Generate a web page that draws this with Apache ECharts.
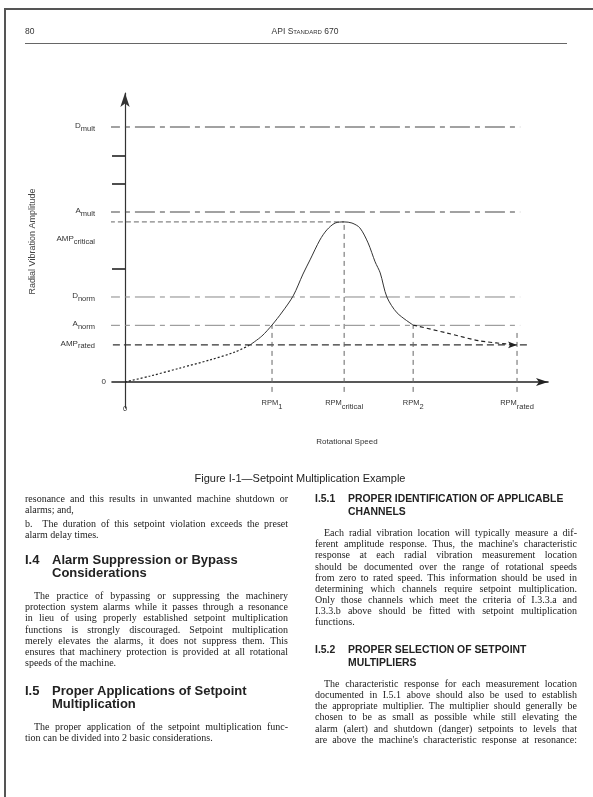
<!DOCTYPE html>
<html>
<head>
<meta charset="utf-8">
<script src="https://cdn.jsdelivr.net/npm/echarts@6/dist/echarts.min.js"></script>
<style>
html,body{margin:0;padding:0;background:#fff;}
#page{position:relative;width:593px;height:797px;overflow:hidden;background:#fff;}
#chart{position:absolute;left:0;top:0;width:593px;height:797px;}
.bd{position:absolute;background:#555;}
.ln{position:absolute;white-space:nowrap;height:12px;line-height:12px;font-family:'Liberation Serif',serif;font-size:10px;color:#222;}
.L{left:25px;width:263px;}
.R{left:315px;width:262px;}
.j{text-align:justify;text-align-last:justify;}
.ind{text-indent:9px;}
.h{font-family:'Liberation Sans',sans-serif;font-weight:bold;font-size:13px;color:#222;height:14px;line-height:14px;}
.hs{font-family:'Liberation Sans',sans-serif;font-weight:bold;font-size:10.4px;color:#222;}
.num{display:inline-block;}
.sans{font-family:'Liberation Sans',sans-serif;color:#333;}
</style>
</head>
<body>
<div id="page">
  <div id="chart"></div>

  <!-- page border -->
  <div class="bd" style="left:4px;top:8px;width:589px;height:1.5px;"></div>
  <div class="bd" style="left:4px;top:8px;width:1.5px;height:789px;"></div>

  <!-- running header -->
  <div class="ln sans" style="left:25px;top:25px;font-size:8.5px;">80</div>
  <div class="ln sans" style="left:200px;width:210px;top:25px;font-size:8.5px;text-align:center;font-variant:small-caps;">API Standard 670</div>
  <div class="bd" style="left:25px;top:43px;width:542px;height:1px;background:#666;"></div>

  <!-- caption -->
  <div class="ln sans" style="left:150px;width:300px;top:472px;font-size:11px;text-align:center;color:#222;">Figure I-1—Setpoint Multiplication Example</div>

  <!-- left column -->
  <div class="ln L j" style="top:493px;">resonance and this results in unwanted machine shutdown or</div>
  <div class="ln L" style="top:504px;">alarms; and,</div>
  <div class="ln L j" style="top:518px;">b.&nbsp;&nbsp;The duration of this setpoint violation exceeds the preset</div>
  <div class="ln L" style="top:529px;">alarm delay times.</div>

  <div class="ln L h" style="top:553px;"><span class="num" style="width:27px;">I.4</span>Alarm Suppression or Bypass</div>
  <div class="ln h" style="left:52px;top:566px;">Considerations</div>

  <div class="ln L j ind" style="top:590px;">The practice of bypassing or suppressing the machinery</div>
  <div class="ln L j" style="top:601px;">protection system alarms while it passes through a resonance</div>
  <div class="ln L j" style="top:612px;">in lieu of using properly established setpoint multiplication</div>
  <div class="ln L j" style="top:624px;">functions is strongly discouraged. Setpoint multiplication</div>
  <div class="ln L j" style="top:635px;">merely elevates the alarms, it does not suppress them. This</div>
  <div class="ln L j" style="top:646px;">ensures that machinery protection is provided at all rotational</div>
  <div class="ln L" style="top:657px;">speeds of the machine.</div>

  <div class="ln L h" style="top:684px;"><span class="num" style="width:27px;">I.5</span>Proper Applications of Setpoint</div>
  <div class="ln h" style="left:52px;top:697px;">Multiplication</div>

  <div class="ln L j ind" style="top:721px;">The proper application of the setpoint multiplication func-</div>
  <div class="ln L" style="top:732px;">tion can be divided into 2 basic considerations.</div>

  <!-- right column -->
  <div class="ln R hs" style="top:493px;"><span class="num" style="width:33px;">I.5.1</span>PROPER IDENTIFICATION OF APPLICABLE</div>
  <div class="ln hs" style="left:348px;top:506px;">CHANNELS</div>

  <div class="ln R j ind" style="top:527px;">Each radial vibration location will typically measure a dif-</div>
  <div class="ln R j" style="top:538px;">ferent amplitude response. Thus, the machine's characteristic</div>
  <div class="ln R j" style="top:549px;">response at each radial vibration measurement location</div>
  <div class="ln R j" style="top:561px;">should be documented over the range of rotational speeds</div>
  <div class="ln R j" style="top:572px;">from zero to rated speed. This information should be used in</div>
  <div class="ln R j" style="top:583px;">determining which channels require setpoint multiplication.</div>
  <div class="ln R j" style="top:594px;">Only those channels which meet the criteria of I.3.3.a and</div>
  <div class="ln R j" style="top:605px;">I.3.3.b above should be fitted with setpoint multiplication</div>
  <div class="ln R" style="top:616px;">functions.</div>

  <div class="ln R hs" style="top:644px;"><span class="num" style="width:33px;">I.5.2</span>PROPER SELECTION OF SETPOINT</div>
  <div class="ln hs" style="left:348px;top:657px;">MULTIPLIERS</div>

  <div class="ln R j ind" style="top:678px;">The characteristic response for each measurement location</div>
  <div class="ln R j" style="top:689px;">documented in I.5.1 above should also be used to establish</div>
  <div class="ln R j" style="top:700px;">the appropriate multiplier. The multiplier should generally be</div>
  <div class="ln R j" style="top:711px;">chosen to be as small as possible while still elevating the</div>
  <div class="ln R j" style="top:723px;">alarm (alert) and shutdown (danger) setpoints to levels that</div>
  <div class="ln R j" style="top:734px;">are above the machine's characteristic response at resonance:</div>
</div>

<script>
// setpoint levels (amplitude units, one tick = 1)
var levelMain = ['D', 'A', 'D', 'A'];
var levelSub = ['mult', 'mult', 'norm', 'norm'];
var levelValues = [9, 6, 3, 2];

var ampCritical = 5.65;      // dashed line through the peak
var ampCriticalLabel = 5;    // where its label sits
var ampRated = 1.31;

var yTicks = [4, 7, 8];

// speeds (rated = 100)
var rpmSub = ['1', 'critical', '2', 'rated'];
var rpmValues = [37.5, 55.9, 73.5, 100];
var rpmLineTop = [2.01, 5.65, 2.01, 1.73];

// machine response curve
var curveSpeed = [0, 6.4, 14.0, 21.7, 28.1, 31.9, 34.9, 37.5, 40.1, 42.9, 45.4, 47.2, 49.7, 51.5, 53.6, 55.9,
                  57.9, 59.9, 62.0, 63.8, 65.1, 66.8, 69.4, 73.5, 82.1, 90.6, 100];
var curveAmp = [0, 0.21, 0.49, 0.78, 1.06, 1.31, 1.62, 2.01, 2.47, 3.04, 3.81, 4.31, 5.01, 5.37, 5.61, 5.65,
                5.61, 5.44, 4.91, 4.24, 3.85, 3.0, 2.44, 2.01, 1.73, 1.45, 1.31];

var lineStart = -6.4, lineEnd = 100.8;

var myChart = echarts.init(document.getElementById('chart'), null, {renderer: 'canvas'});

function pts(a, b) {
    var out = [];
    for (var i = a; i <= b; i++) out.push([curveSpeed[i], curveAmp[i]]);
    return out;
}

function flat(y, x0, x1, style) {
    return {
        type: 'line', data: [[x0, y], [x1, y]], symbol: 'none', clip: false,
        silent: true, lineStyle: style, z: 1
    };
}

var series = [];
var multDash = [20, 5, 5, 5];
for (var i = 0; i < levelValues.length; i++) {
    var isMult = levelSub[i] === 'mult';
    series.push(flat(levelValues[i], lineStart, lineEnd, {
        color: isMult ? '#444' : '#888', width: isMult ? 1.2 : 1, type: multDash
    }));
}
series.push(flat(ampCritical, lineStart + 0.5, rpmValues[1], {color: '#666', width: 1, type: [5, 3]}));
series.push(flat(ampRated, lineStart + 0.5, 103.3, {color: '#333', width: 1.2, type: [7, 4]}));

for (var k = 0; k < rpmValues.length; k++) {
    series.push({
        type: 'line', data: [[rpmValues[k], -0.35], [rpmValues[k], rpmLineTop[k]]],
        symbol: 'none', clip: false, silent: true,
        lineStyle: {color: '#666', width: 1, type: [5, 4]}
    });
}

// curve: dotted run-up, solid through resonance, dashed to rated speed
series.push({type: 'line', data: pts(0, 5), smooth: 0.3, symbol: 'none',
    lineStyle: {color: '#222', width: 1.2, type: [2, 2]}, z: 3});
series.push({type: 'line', data: pts(5, 23), smooth: 0.3, symbol: 'none',
    lineStyle: {color: '#333', width: 1}, z: 3});
var tail = pts(23, 26);
tail[tail.length - 1] = {value: tail[tail.length - 1], symbol: 'arrow', symbolSize: [5, 9], symbolRotate: -90};
series.push({type: 'line', data: tail, smooth: 0.3, symbol: 'none', showSymbol: true,
    itemStyle: {color: '#222'},
    lineStyle: {color: '#222', width: 1.2, type: [4, 3]}, z: 3});

var yLabelVals = [0, ampRated, levelValues[3], levelValues[2], ampCriticalLabel, levelValues[1], levelValues[0]];

function yLabel(v) {
    if (v === 0) return '{z|0}';
    for (var i = 0; i < levelValues.length; i++) {
        if (v === levelValues[i]) return '{b|' + levelMain[i] + '}{s|' + levelSub[i] + '}';
    }
    if (v === ampCriticalLabel) return '{b|AMP}{s|critical}';
    if (v === ampRated) return '{b|AMP}{s|rated}';
    return '';
}

function xLabel(v) {
    if (v === 0) return '{z|0}';
    var i = rpmValues.indexOf(v);
    return i < 0 ? '' : '{b|RPM}{s|' + rpmSub[i] + '}';
}

var txt = '#333';
var option = {
    animation: false,
    backgroundColor: 'transparent',
    grid: {left: 112, right: 45, top: 93, bottom: 389, outerBoundsMode: 'none', containLabel: false},
    xAxis: {
        type: 'value', min: -3.32, max: 107.9,
        name: 'Rotational Speed', nameLocation: 'middle', nameGap: 30,
        nameTextStyle: {fontFamily: 'Liberation Sans', fontSize: 8, color: txt, padding: [0, 0, 0, 34]},
        axisLine: {show: true, onZero: true, symbol: ['none', 'arrow'], symbolSize: [6, 12],
            lineStyle: {color: '#222', width: 1.6}},
        axisTick: {show: false},
        splitLine: {show: false},
        axisLabel: {
            customValues: [0].concat(rpmValues), margin: -9, formatter: xLabel,
            fontFamily: 'Liberation Sans', color: txt,
            rich: {
                b: {fontSize: 7.5, fontFamily: 'Liberation Sans', color: txt, padding: [0, 0, 4, 0]},
                s: {fontSize: 7.5, fontFamily: 'Liberation Sans', color: txt, padding: [4, 0, 0, 0]},
                z: {fontSize: 7.5, fontFamily: 'Liberation Sans', color: txt, padding: [6, 0, 0, 0]}
            }
        }
    },
    yAxis: {
        type: 'value', min: -0.918, max: 10.2,
        name: 'Radial Vibration Amplitude', nameLocation: 'middle', nameGap: 75, nameRotate: 90,
        nameMoveOverlap: false,
        nameTextStyle: {fontFamily: 'Liberation Sans', fontSize: 9, color: '#444', padding: [0, 0, 0, 18]},
        axisLine: {show: true, onZero: true, symbol: ['none', 'arrow'], symbolSize: [7, 14],
            lineStyle: {color: '#333', width: 1.2}},
        axisTick: {show: true, customValues: yTicks, length: 13, lineStyle: {color: '#222', width: 1.6}},
        splitLine: {show: false},
        axisLabel: {
            customValues: yLabelVals, margin: 6, formatter: yLabel,
            fontFamily: 'Liberation Sans', color: txt,
            rich: {
                b: {fontSize: 8, fontFamily: 'Liberation Sans', color: txt, padding: [0, 0, 3, 0]},
                s: {fontSize: 7.5, fontFamily: 'Liberation Sans', color: txt, padding: [3, 11, 0, 0]},
                z: {fontSize: 8, fontFamily: 'Liberation Sans', color: txt}
            }
        }
    },
    series: series
};

myChart.setOption(option);
</script>
</body>
</html>
